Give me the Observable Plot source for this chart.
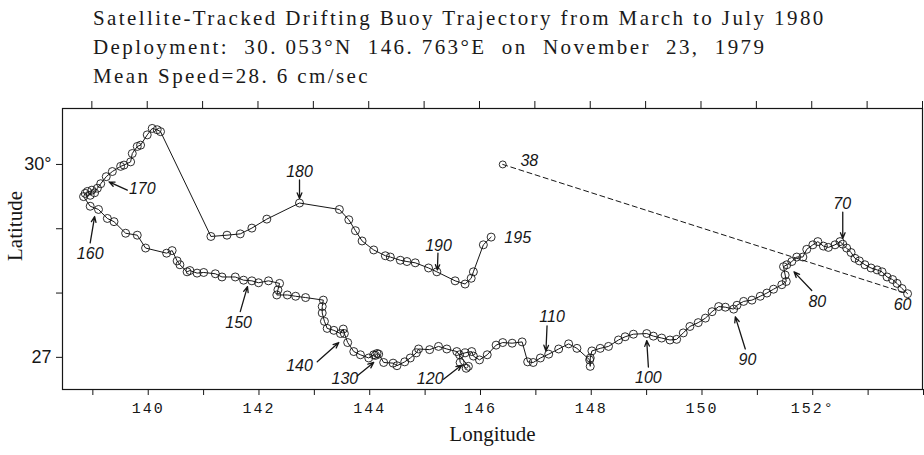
<!DOCTYPE html>
<html><head><meta charset="utf-8">
<script src="https://cdn.jsdelivr.net/npm/d3@7"></script>
<script src="https://cdn.jsdelivr.net/npm/@observablehq/plot@0.6"></script>
<style>
body{margin:0;background:#fff;width:924px;height:455px;overflow:hidden;}
#title{height:100px;box-sizing:border-box;padding:4px 0 0 93px;font-family:"Liberation Serif",serif;font-size:21px;line-height:29px;letter-spacing:2.4px;color:#1a1a1a;white-space:pre;}
#chart svg{display:block;}
#chart g[aria-label="x-axis tick label"] text{letter-spacing:2px;}
</style></head><body>
<div id="title"></div>
<div id="chart"></div>
<script>
const titleLines = [
  "Satellite-Tracked Drifting Buoy Trajectory from March to July 1980",
  "Deployment:  30. 053°N  146. 763°E  on  November  23,  1979",
  "Mean Speed=28. 6 cm/sec"
];

// trajectory, day 60 -> day 195 (longitude °E, latitude °N)
const pathLon = [
  153.73,153.63,153.54,153.46,153.36,153.27,153.18,153.07,152.96,152.86,152.78,152.71,152.63,152.56,152.51,
  152.42,152.30,152.21,152.11,152.02,151.91,151.84,151.73,151.64,151.55,151.49,
  151.52,151.54,151.46,151.31,151.19,151.07,150.92,150.77,150.65,150.59,
  150.44,150.32,150.20,150.08,149.95,149.80,149.68,149.56,149.44,149.29,149.14,149.02,
  148.78,148.63,148.51,148.33,148.18,148.03,148.00,148.00,147.99,147.76,147.61,147.43,147.25,147.10,146.97,146.87,
  146.77,146.59,146.42,146.30,146.14,146.00,145.89,145.86,145.74,145.64,145.65,145.76,145.80,
  145.59,145.41,145.26,145.10,144.90,144.86,144.75,144.65,144.51,144.44,144.27,144.18,144.15,144.12,144.09,
  144.00,143.85,143.73,143.62,143.56,143.54,143.49,143.37,143.25,143.20,143.16,143.16,143.18,
  142.86,142.68,142.53,142.34,142.36,142.39,142.19,142.01,141.89,141.74,141.59,
  141.35,141.23,141.02,140.90,140.77,140.72,140.59,140.54,140.45,140.35,139.97,139.82,139.61,139.40,139.28,139.12,138.97,
  138.85,138.88,138.92,138.97,139.00,139.05,139.10,139.16,139.26,139.37,139.52,139.58,139.70,139.73,139.82,139.88,140.00,140.09,140.18,140.24,
  141.15,141.44,141.68,141.89,142.16,142.75,143.47,143.64,143.76,143.88,144.09,144.30,144.39,144.57,144.69,144.84,145.08,145.23,145.56,145.74,145.85,145.89,146.07,146.21
];
const pathLat = [
  27.99,28.07,28.15,28.21,28.25,28.33,28.36,28.39,28.44,28.50,28.54,28.63,28.70,28.76,28.80,
  28.75,28.71,28.73,28.80,28.75,28.68,28.56,28.56,28.49,28.44,28.41,
  28.28,28.18,28.13,28.06,28.00,27.95,27.89,27.87,27.81,27.75,
  27.78,27.79,27.71,27.61,27.54,27.48,27.38,27.28,27.27,27.30,27.33,27.37,
  27.36,27.32,27.27,27.17,27.14,27.10,26.99,26.86,26.96,27.14,27.21,27.13,27.05,26.99,26.92,26.93,
  27.24,27.22,27.23,27.19,27.04,26.96,27.02,27.09,27.07,27.04,26.92,26.83,26.86,
  27.09,27.13,27.17,27.12,27.13,27.07,26.99,26.93,26.87,26.91,26.92,27.05,27.06,27.03,27.04,
  26.99,27.04,27.09,27.23,27.37,27.44,27.37,27.42,27.45,27.56,27.69,27.79,27.89,
  27.93,27.95,27.97,27.97,28.05,28.15,28.19,28.16,28.19,28.20,28.25,
  28.25,28.30,28.32,28.31,28.35,28.33,28.44,28.50,28.66,28.62,28.70,28.90,28.93,29.11,29.16,29.30,29.35,
  29.50,29.55,29.58,29.52,29.60,29.56,29.63,29.70,29.81,29.89,29.97,29.99,30.04,30.17,30.28,30.30,30.46,30.56,30.54,30.51,
  28.88,28.90,28.92,29.01,29.15,29.40,29.30,29.14,28.97,28.81,28.67,28.58,28.56,28.51,28.49,28.47,28.39,28.33,28.19,28.14,28.23,28.33,28.75,28.87
];

// day 38 fix and the gap to day 60 (dashed)
const gapLon = [146.42, 153.73];
const gapLat = [30.00, 27.99];

// day labels
const dayText = ["38","60","70","80","90","100","110","120","130","140","150","160","170","180","190","195"];
const dayLon  = [146.90,153.64,152.55,152.10,150.84,149.05,147.31,145.11,143.57,142.75,141.65,138.97,139.91,142.75,145.26,146.69];
const dayLat  = [30.05,27.81,29.39,27.87,26.96,26.68,27.63,26.66,26.66,26.87,27.53,28.61,29.62,29.89,28.73,28.86];

// arrows from label to fix
const arrowFromLon = [152.56,152.00,150.80,149.05,147.22,145.35,143.79,143.07,141.68,138.97,139.64,142.75,145.25];
const arrowFromLat = [29.26,28.04,27.13,26.85,27.49,26.66,26.71,26.93,27.71,28.78,29.60,29.76,28.62];
const arrowToLon   = [152.56,151.68,150.62,149.02,147.20,145.68,144.09,143.46,141.81,139.05,139.31,142.75,145.24];
const arrowToLat   = [28.85,28.33,27.63,27.26,27.10,26.88,26.92,27.23,28.10,29.19,29.73,29.47,28.36];

const xTicks = [139,140,141,142,143,144,145,146,147,148,149,150,151,152,153,154];
const xLabelVals = [140,142,144,146,148,150,152];
const xLabelText = ["140","142","144","146","148","150","152°"];
const yTicks = [27,28,29,30];
const yLabelVals = [27,30];
const yLabelText = ["27","30°"];

document.getElementById("title").textContent = titleLines.join("\n");

const path = pathLon.map((x,i)=>({x, y: pathLat[i]}));
const gap = gapLon.map((x,i)=>({x, y: gapLat[i]}));
const labels = dayText.map((t,i)=>({t, x: dayLon[i], y: dayLat[i]}));
const arrows = arrowFromLon.map((x1,i)=>({x1, y1: arrowFromLat[i], x2: arrowToLon[i], y2: arrowToLat[i]}));
const xFmt = d => { const k = xLabelVals.indexOf(d); return k < 0 ? "" : xLabelText[k]; };
const yFmt = d => { const k = yLabelVals.indexOf(d); return k < 0 ? "" : yLabelText[k]; };

const ink = "#161616";
const chart = Plot.plot({
  width: 924,
  height: 355,
  marginTop: 8,
  marginBottom: 66,
  marginLeft: 62,
  marginRight: 2,
  style: {background: "#fff", color: ink},
  x: {domain: [138.47, 154.0]},
  y: {domain: [26.5, 30.87]},
  marks: [
    Plot.frame({stroke: ink, strokeWidth: 1.2}),
    Plot.axisX({anchor: "bottom", ticks: xTicks, tickSize: 6, tickPadding: 7, tickFormat: xFmt,
      fontFamily: "Liberation Mono", fontSize: 15, label: null, stroke: ink, dx: 1}),
    Plot.axisX({anchor: "top", ticks: xTicks, tickSize: 8, tickFormat: () => "", label: null, stroke: ink}),
    Plot.axisY({anchor: "left", ticks: yTicks, tickSize: 6, tickPadding: 5, tickFormat: yFmt,
      fontFamily: "Liberation Sans", fontSize: 18, label: null, stroke: ink}),
    Plot.text(["Longitude"], {frameAnchor: "bottom", dy: 51, fontFamily: "Liberation Serif", fontSize: 21, fill: ink}),
    Plot.text(["Latitude"], {frameAnchor: "left", dx: -47, dy: 12, rotate: -90, fontFamily: "Liberation Serif", fontSize: 21, fill: ink}),
    Plot.line(gap, {x: "x", y: "y", stroke: ink, strokeWidth: 1, strokeDasharray: "5,3.5"}),
    Plot.line(path, {x: "x", y: "y", stroke: ink, strokeWidth: 1}),
    Plot.dot(path, {x: "x", y: "y", r: 4, stroke: ink, strokeWidth: 0.9, fill: "none"}),
    Plot.dot(gap.slice(0,1), {x: "x", y: "y", r: 3.5, stroke: ink, strokeWidth: 0.9, fill: "none"}),
    Plot.arrow(arrows, {x1: "x1", y1: "y1", x2: "x2", y2: "y2", stroke: ink, strokeWidth: 1.3, headLength: 7, headAngle: 45}),
    Plot.text(labels, {x: "x", y: "y", text: "t", fontFamily: "Liberation Sans", fontStyle: "italic", fontSize: 16, fill: ink})
  ]
});
document.getElementById("chart").appendChild(chart);
</script>
</body></html>
